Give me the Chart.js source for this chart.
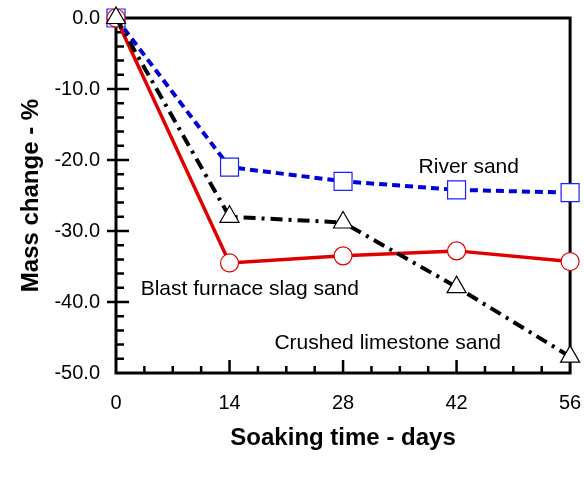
<!DOCTYPE html>
<html>
<head>
<meta charset="utf-8">
<script src="https://cdn.jsdelivr.net/npm/chart.js@4.4.1/dist/chart.umd.min.js"></script>
<style>
  html, body { margin:0; padding:0; background:#fff; }
  #wrap { width:584px; height:479px; position:relative; }
</style>
</head>
<body>
<div id="wrap"><canvas id="chart" width="584" height="479"></canvas></div>
<script>
// soaking time (days) and mass change (%)
const days = [0, 14, 28, 42, 56];
const limestoneSand = [0, -28.0, -28.8, -37.9, -47.7];
const slagSand = [0, -34.5, -33.5, -32.8, -34.3];
const riverSand = [0, -21.0, -23.0, -24.2, -24.6];

const xTicks = [0, 14, 28, 42, 56];
const yTicks = [0, -10, -20, -30, -40, -50];

// in-plot labels, placed in data units
const seriesNames = ['River sand', 'Blast furnace slag sand', 'Crushed limestone sand'];
const nameAtDay = [43.5, 16.5, 33.5];
const nameAtValue = [-21.0, -38.2, -45.8];

const pts = vals => days.map((d, i) => ({ x: d, y: vals[i] }));

// box + ticks drawn by hand, ticks face inward like the original
const frame = {
  id: 'frame',
  beforeDatasetsDraw(chart) {
    const { ctx, chartArea: a, scales: { x, y } } = chart;
    ctx.save();
    ctx.strokeStyle = '#000';
    ctx.lineWidth = 3;
    ctx.strokeRect(a.left, a.top, a.right - a.left, a.bottom - a.top);
    ctx.lineWidth = 2.5;
    ctx.beginPath();
    for (let v = -2; v > -50; v -= 2) {
      const py = y.getPixelForValue(v);
      const major = v % 10 === 0;
      ctx.moveTo(major ? a.left - 9 : a.left, py);
      ctx.lineTo(a.left + (major ? 13 : 8), py);
    }
    for (let d = 3.5; d < 56; d += 3.5) {
      const px = x.getPixelForValue(d);
      const major = d % 14 === 0;
      ctx.moveTo(px, a.bottom);
      ctx.lineTo(px, a.bottom - (major ? 13 : 7));
    }
    ctx.stroke();

    ctx.fillStyle = '#000';
    ctx.font = '21px "Liberation Sans", Arial, sans-serif';
    ctx.textAlign = 'center';
    ctx.textBaseline = 'middle';
    seriesNames.forEach((n, i) => {
      ctx.fillText(n, x.getPixelForValue(nameAtDay[i]), y.getPixelForValue(nameAtValue[i]));
    });
    ctx.restore();
  }
};

const noOverflow = s => { s.paddingLeft = 0; s.paddingRight = 0; s.paddingTop = 0; s.paddingBottom = 0; };

new Chart(document.getElementById('chart'), {
  type: 'line',
  data: {
    datasets: [
      {
        label: 'Crushed limestone sand', data: pts(limestoneSand),
        borderColor: '#000', borderWidth: 4, borderDash: [12, 6, 3, 6],
        pointStyle: 'triangle', pointRadius: 11, pointBorderWidth: 1.2,
        pointBorderColor: '#000', pointBackgroundColor: '#fff'
      },
      {
        label: 'Blast furnace slag sand', data: pts(slagSand),
        borderColor: '#e00000', borderWidth: 3.5,
        pointStyle: 'circle', pointRadius: 9, pointBorderWidth: 1.2,
        pointBorderColor: '#e00000', pointBackgroundColor: '#fff'
      },
      {
        label: 'River sand', data: pts(riverSand),
        borderColor: '#0000d8', borderWidth: 4, borderDash: [8, 5],
        pointStyle: 'rect', pointRadius: 12.7, pointBorderWidth: 1.2,
        pointBorderColor: '#2020ff', pointBackgroundColor: '#fff'
      }
    ]
  },
  options: {
    responsive: false,
    animation: false,
    clip: false,
    layout: { padding: { left: 0, top: 18, right: 13, bottom: 0 } },
    plugins: { legend: { display: false }, tooltip: { enabled: false } },
    elements: { line: { tension: 0 } },
    scales: {
      x: {
        type: 'linear', min: 0, max: 56,
        afterFit: s => { s.height = 106; noOverflow(s); },
        afterBuildTicks: s => { s.ticks = xTicks.map(v => ({ value: v })); },
        grid: { display: false, drawTicks: false }, border: { display: false },
        ticks: { padding: 18, color: '#000', font: { family: '"Liberation Sans", Arial, sans-serif', size: 20 } },
        title: { display: true, text: 'Soaking time - days', color: '#000', padding: { bottom: 26 },
                 font: { family: '"Liberation Sans", Arial, sans-serif', size: 24, weight: 'bold' } }
      },
      y: {
        type: 'linear', min: -50, max: 0,
        afterFit: s => { s.width = 116; noOverflow(s); },
        afterBuildTicks: s => { s.ticks = yTicks.map(v => ({ value: v })); },
        grid: { display: false, drawTicks: false }, border: { display: false },
        ticks: { padding: 16, color: '#000', callback: v => v.toFixed(1),
                 font: { family: '"Liberation Sans", Arial, sans-serif', size: 20 } },
        title: { display: true, text: 'Mass change - %', color: '#000', padding: { top: 17 },
                 font: { family: '"Liberation Sans", Arial, sans-serif', size: 24, weight: 'bold' } }
      }
    }
  },
  plugins: [frame]
});
</script>
</body>
</html>
